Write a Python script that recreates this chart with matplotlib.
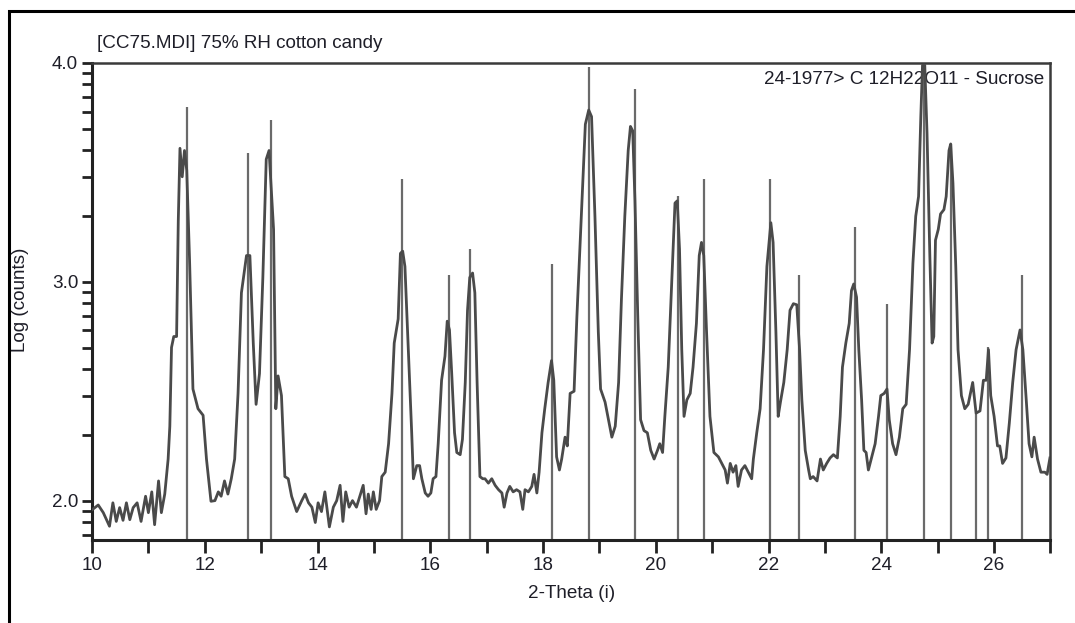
import numpy as np
import matplotlib
matplotlib.use('Agg')
import matplotlib.pyplot as plt
from matplotlib.patches import Rectangle
from matplotlib.ticker import FixedLocator, NullFormatter

plt.rcParams['font.family'] = ['Liberation Sans', 'DejaVu Sans']

# measured pattern, 2-theta (deg) and log10(counts)
two_theta = [
    10.00, 10.11, 10.20, 10.31, 10.37, 10.43, 10.49, 10.55, 10.61, 10.67,
    10.73, 10.80, 10.87, 10.95, 11.00, 11.06, 11.11, 11.18, 11.23, 11.29,
    11.35, 11.38, 11.41, 11.45, 11.50, 11.53, 11.56, 11.60, 11.64, 11.68,
    11.73, 11.79, 11.88, 11.97, 12.03, 12.11, 12.18, 12.24, 12.29, 12.35,
    12.41, 12.47, 12.53, 12.59, 12.65, 12.74, 12.80, 12.86, 12.91, 12.97,
    13.03, 13.09, 13.14, 13.22, 13.26, 13.30, 13.36, 13.42, 13.48, 13.54,
    13.63, 13.72, 13.78, 13.84, 13.90, 13.96, 14.01, 14.07, 14.13, 14.21,
    14.28, 14.34, 14.40, 14.45, 14.50, 14.56, 14.62, 14.69, 14.75, 14.81,
    14.86, 14.90, 14.95, 14.99, 15.04, 15.10, 15.14, 15.20, 15.26, 15.32,
    15.36, 15.43, 15.47, 15.51, 15.55, 15.61, 15.67, 15.70, 15.76, 15.81,
    15.85, 15.91, 15.96, 16.01, 16.05, 16.10, 16.14, 16.20, 16.26, 16.30,
    16.34, 16.38, 16.43, 16.47, 16.53, 16.57, 16.62, 16.66, 16.70, 16.75,
    16.79, 16.83, 16.88, 16.93, 16.97, 17.03, 17.09, 17.15, 17.21, 17.27,
    17.31, 17.36, 17.41, 17.47, 17.53, 17.59, 17.64, 17.68, 17.74, 17.80,
    17.84, 17.89, 17.93, 17.98, 18.03, 18.09, 18.15, 18.19, 18.24, 18.29,
    18.33, 18.39, 18.43, 18.48, 18.55, 18.60, 18.69, 18.75, 18.81, 18.86,
    18.92, 18.98, 19.02, 19.10, 19.16, 19.22, 19.28, 19.34, 19.39, 19.45,
    19.51, 19.55, 19.59, 19.63, 19.68, 19.73, 19.79, 19.85, 19.91, 19.97,
    20.03, 20.07, 20.12, 20.16, 20.22, 20.28, 20.34, 20.38, 20.42, 20.46,
    20.50, 20.55, 20.61, 20.66, 20.72, 20.77, 20.81, 20.85, 20.90, 20.96,
    21.03, 21.11, 21.17, 21.23, 21.27, 21.32, 21.37, 21.42, 21.46, 21.52,
    21.58, 21.64, 21.70, 21.73, 21.79, 21.85, 21.91, 21.97, 22.04, 22.08,
    22.13, 22.17, 22.21, 22.27, 22.33, 22.38, 22.44, 22.50, 22.55, 22.59,
    22.65, 22.71, 22.74, 22.79, 22.86, 22.92, 22.97, 23.03, 23.09, 23.15,
    23.22, 23.27, 23.31, 23.37, 23.43, 23.47, 23.51, 23.56, 23.60, 23.65,
    23.69, 23.73, 23.77, 23.83, 23.89, 23.95, 23.99, 24.05, 24.10, 24.14,
    24.20, 24.26, 24.32, 24.38, 24.44, 24.50, 24.56, 24.61, 24.66, 24.70,
    24.73, 24.77, 24.81, 24.86, 24.90, 24.93, 24.96, 25.01, 25.05, 25.11,
    25.15, 25.20, 25.23, 25.27, 25.32, 25.36, 25.42, 25.48, 25.54, 25.62,
    25.68, 25.75, 25.81, 25.86, 25.90, 25.94, 26.00, 26.06, 26.10, 26.15,
    26.21, 26.27, 26.33, 26.39, 26.46, 26.51, 26.57, 26.62, 26.67, 26.71,
    26.77, 26.83, 26.90, 26.94, 26.99,
]
log_counts = [
    1.958, 1.980, 1.945, 1.883, 1.990, 1.905, 1.968, 1.910, 1.990, 1.913,
    1.968, 1.990, 1.905, 2.020, 1.945, 2.040, 1.890, 2.090, 1.945, 2.030,
    2.190, 2.340, 2.700, 2.750, 2.750, 3.280, 3.610, 3.480, 3.600, 3.510,
    3.100, 2.510, 2.420, 2.390, 2.190, 1.997, 2.000, 2.040, 2.020, 2.090,
    2.030, 2.100, 2.190, 2.490, 2.950, 3.120, 3.120, 2.720, 2.440, 2.580,
    3.020, 3.560, 3.600, 3.240, 2.420, 2.570, 2.480, 2.110, 2.100, 2.020,
    1.950, 2.000, 2.030, 1.990, 1.970, 1.900, 1.990, 1.950, 2.040, 1.880,
    1.970, 2.000, 2.070, 1.905, 2.040, 1.970, 2.000, 1.970, 2.020, 2.070,
    1.940, 2.030, 1.960, 2.040, 1.960, 2.000, 2.110, 2.130, 2.260, 2.490,
    2.720, 2.830, 3.130, 3.140, 3.070, 2.690, 2.310, 2.100, 2.160, 2.160,
    2.100, 2.035, 2.020, 2.035, 2.100, 2.110, 2.260, 2.550, 2.660, 2.820,
    2.780, 2.580, 2.310, 2.220, 2.210, 2.280, 2.540, 2.870, 3.020, 3.040,
    2.950, 2.540, 2.110, 2.100, 2.100, 2.080, 2.100, 2.070, 2.050, 2.035,
    1.970, 2.035, 2.065, 2.040, 2.050, 2.040, 1.960, 2.050, 2.040, 2.065,
    2.120, 2.035, 2.130, 2.310, 2.420, 2.540, 2.640, 2.550, 2.200, 2.140,
    2.190, 2.290, 2.250, 2.490, 2.500, 2.840, 3.370, 3.720, 3.785, 3.755,
    3.300, 2.770, 2.510, 2.450, 2.370, 2.290, 2.340, 2.540, 2.920, 3.300,
    3.600, 3.710, 3.690, 3.370, 2.840, 2.370, 2.320, 2.310, 2.230, 2.190,
    2.230, 2.260, 2.220, 2.385, 2.610, 2.990, 3.360, 3.370, 3.150, 2.690,
    2.385, 2.460, 2.490, 2.610, 2.810, 3.120, 3.180, 3.120, 2.770, 2.385,
    2.220, 2.200, 2.170, 2.140, 2.080, 2.170, 2.130, 2.160, 2.065, 2.140,
    2.160, 2.130, 2.100, 2.190, 2.310, 2.420, 2.690, 3.070, 3.270, 3.180,
    2.770, 2.385, 2.450, 2.540, 2.690, 2.870, 2.900, 2.895, 2.690, 2.460,
    2.230, 2.140, 2.100, 2.110, 2.090, 2.190, 2.140, 2.170, 2.195, 2.210,
    2.195, 2.385, 2.610, 2.720, 2.810, 2.960, 2.990, 2.930, 2.690, 2.460,
    2.230, 2.220, 2.140, 2.200, 2.260, 2.385, 2.480, 2.490, 2.510, 2.370,
    2.260, 2.210, 2.290, 2.420, 2.440, 2.690, 3.085, 3.300, 3.390, 3.755,
    3.990, 3.990, 3.680, 3.120, 2.720, 2.750, 3.190, 3.240, 3.310, 3.330,
    3.390, 3.600, 3.630, 3.450, 3.070, 2.690, 2.480, 2.420, 2.440, 2.540,
    2.400, 2.410, 2.550, 2.550, 2.690, 2.480, 2.385, 2.250, 2.250, 2.170,
    2.195, 2.355, 2.540, 2.690, 2.780, 2.690, 2.460, 2.260, 2.200, 2.290,
    2.190, 2.130, 2.130, 2.120, 2.195,
]

# reference card 24-1977 (sucrose) stick positions and heights
ref_theta = [11.69, 12.77, 13.17, 15.49, 16.34, 16.71, 18.15, 18.82, 19.63, 20.40,
             20.85, 22.02, 22.54, 23.54, 24.10, 24.76, 25.24, 25.68, 25.90, 26.49]
ref_top = [3.80, 3.59, 3.74, 3.47, 3.03, 3.15, 3.08, 3.98, 3.88, 3.39,
           3.47, 3.47, 3.03, 3.25, 2.90, 3.99, 3.63, 2.40, 2.70, 3.03]

y_bottom = 1.82
y_major = [2.0, 3.0, 4.0]
minor_counts = [70, 80, 90, 200, 300, 400, 500, 600, 700, 800, 900,
                2000, 3000, 4000, 5000, 6000, 7000, 8000, 9000]

fig = plt.figure(figsize=(10.75, 6.23), dpi=100)
ax = fig.add_axes([0.0856, 0.1332, 0.8916, 0.7657])

txt = '#1e1e28'
ax.vlines(ref_theta, y_bottom, ref_top, color='#6a6a6a', lw=1.6, zorder=2)
ax.plot(two_theta, log_counts, color='#4a4a4a', lw=2.0, zorder=3)

ax.set_xlim(10, 27)
ax.set_ylim(y_bottom, 4.0)

ax.set_xticks([10, 12, 14, 16, 18, 20, 22, 24, 26])
ax.set_xticks([11, 13, 15, 17, 19, 21, 23, 25, 27], minor=True)
ax.set_yticks(y_major)
ax.set_yticklabels(['2.0', '3.0', '4.0'])
ax.yaxis.set_minor_locator(FixedLocator(np.log10(minor_counts)))
ax.yaxis.set_minor_formatter(NullFormatter())

ax.tick_params(axis='x', which='both', direction='out', length=9, width=2,
               color='#222222', labelsize=13.6, labelcolor=txt, pad=3)
ax.tick_params(axis='y', which='both', direction='out', length=7, width=2,
               color='#222222', labelsize=13.6, labelcolor=txt, pad=3)

for side in ['left', 'bottom']:
    ax.spines[side].set_linewidth(2.2)
    ax.spines[side].set_color('#222222')
for side in ['top', 'right']:
    ax.spines[side].set_linewidth(1.8)
    ax.spines[side].set_color('#3a3a3a')

ax.set_xlabel('2-Theta (i)', fontsize=13.6, color=txt, labelpad=8)
ax.set_ylabel('Log (counts)', fontsize=13.6, color=txt, va='center')
ax.yaxis.set_label_coords(-0.075, 0.503)

fig.text(97 / 1075, 1 - 44 / 623, '[CC75.MDI] 75% RH cotton candy',
         fontsize=13.6, color=txt, ha='left', va='center')
ax.text(0.9935, 0.965, '24-1977> C 12H22O11 - Sucrose', transform=ax.transAxes,
        fontsize=13.6, color=txt, ha='right', va='center', zorder=1)

# outer frame of the original figure
fig.patches.append(Rectangle((9 / 1075, -0.05), 1.2, 1 - 11 / 623 + 0.05,
                             transform=fig.transFigure, fill=False,
                             edgecolor='black', lw=2.2))

fig.savefig('out.png', dpi=100)
